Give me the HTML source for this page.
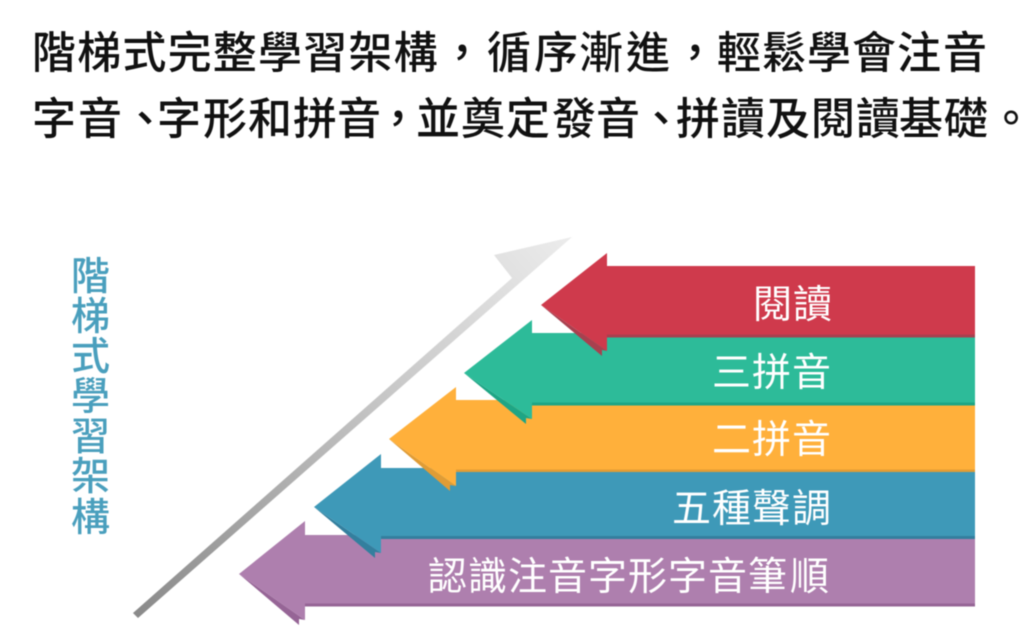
<!DOCTYPE html>
<html><head><meta charset="utf-8">
<style>
html,body{margin:0;padding:0;background:#fff;width:1024px;height:630px;overflow:hidden}
svg{display:block;filter:blur(.45px)}
.t{font-family:"Liberation Sans","Noto Sans CJK TC",sans-serif;font-size:44px;font-weight:500;fill:#111}
.l{font-family:"Liberation Sans","Noto Sans CJK TC",sans-serif;font-size:39px;font-weight:400;fill:#fff}
.v{font-family:"Liberation Sans","Noto Sans CJK TC",sans-serif;font-size:39px;font-weight:500;fill:#4a9fbd}
</style></head><body>
<svg width="1024" height="630" viewBox="0 0 1024 630" xmlns="http://www.w3.org/2000/svg">
<defs><linearGradient id="g" gradientUnits="userSpaceOnUse" x1="136" y1="615" x2="570" y2="238">
<stop offset="0" stop-color="#8a8a8a"/><stop offset=".55" stop-color="#c4c4c4"/><stop offset="1" stop-color="#ececec"/></linearGradient></defs>
<text class="t" y="68" x="32 77.2 122.4 167.6 212.8 258 303.2 348.4 393.6 440 487 534 579 626 673 717 762 807 852 897 943">階梯式完整學習架構，循序漸進，輕鬆學會注音</text>
<text class="t" y="134" x="32 78 123 157 203 248 293 337 376 416 461 506 552 596 639 676 721 766 811 856 899 944 989">字音、字形和拼音，並奠定發音、拼讀及閱讀基礎。</text>
<polygon fill="url(#g)" points="133,613 512,278 494,255 572,237 138,618"/>
<text class="v" x="71" y="290">階</text><text class="v" x="71" y="330">梯</text><text class="v" x="71" y="370">式</text><text class="v" x="71" y="410">學</text><text class="v" x="71" y="450">習</text><text class="v" x="71" y="490">架</text><text class="v" x="71" y="531">構</text>
<!-- purple -->
<polygon fill="#966596" points="239,574 299,625 299,619 305,620"/>
<polygon fill="#ae7fae" points="239,574 305,521 305,535 975,535 975,606.5 305,606.5 305,620"/>
<rect x="305" y="603.5" width="670" height="3" fill="#966596"/>
<!-- blue -->
<polygon fill="#337f9e" points="314,507 375,558 375,552 381,553"/>
<polygon fill="#3e99b8" points="314,507 381,454 381,468 975,468 975,539 381,539 381,553"/>
<rect x="381" y="536" width="594" height="3" fill="#337f9e"/>
<!-- orange -->
<polygon fill="#e09c35" points="389,439 450,491 450,485 456,486"/>
<polygon fill="#ffb03b" points="389,439 456,387 456,400 975,400 975,472 456,472 456,486"/>
<rect x="456" y="469.5" width="519" height="2.5" fill="#e09c35"/>
<!-- green -->
<polygon fill="#1ea585" points="464,373 526,424 526,418 532,419"/>
<polygon fill="#2dbb99" points="464,373 532,320 532,333 975,333 975,405.5 532,405.5 532,419"/>
<rect x="532" y="402.5" width="443" height="3" fill="#1ea585"/>
<!-- red -->
<polygon fill="#a8404f" points="541,305 602,356 602,350 607,351"/>
<polygon fill="#cf3a4c" points="541,305 607,253 607,266 975,266 975,337.5 607,337.5 607,351"/>
<rect x="607" y="334.5" width="368" height="3" fill="#a8404f"/>
<text class="l" y="318" x="753 793">閱讀</text>
<text class="l" y="386" x="712 752 792">三拼音</text>
<text class="l" y="453" x="712 752 792">二拼音</text>
<text class="l" y="522" x="672 712 752 792">五種聲調</text>
<text class="l" y="590" x="428 468 508 548 588 628 668 708 748 790">認識注音字形字音筆順</text>
</svg>
</body></html>
